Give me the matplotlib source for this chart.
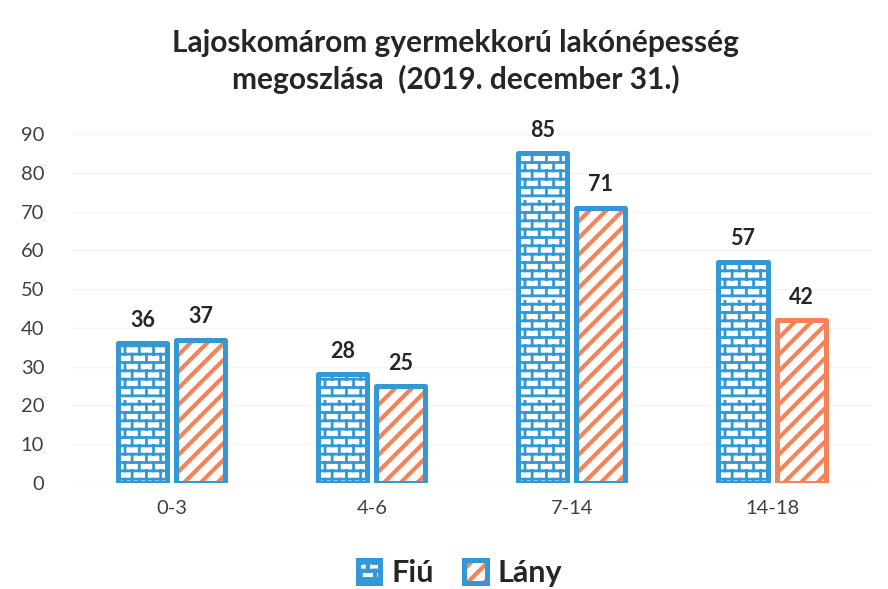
import warnings
import numpy as np
import matplotlib
matplotlib.use("Agg")
import matplotlib.pyplot as plt
from matplotlib import hatch as mhatch
from matplotlib.path import Path

warnings.filterwarnings("ignore")

categories = ["0-3", "4-6", "7-14", "14-18"]
fiu = [36, 28, 85, 57]
lany = [37, 25, 71, 42]
series_names = ["Fiú", "Lány"]

blue = "#3398d3"
orange = "#f6825a"
lany_edges = [blue, blue, blue, orange]


# brick hatch ("b"), not available in matplotlib so register one
class BrickHatch(mhatch.HatchPatternBase):
    rows = 12
    cols = 7

    def __init__(self, hatch, density):
        self.on = "b" in hatch
        # each row: one horizontal line + cols vertical segments
        self.num_vertices = (self.rows * (1 + self.cols) * 2) if self.on else 0

    def set_vertices_and_codes(self, vertices, codes):
        i = 0
        h = 1.0 / self.rows
        w = 1.0 / self.cols
        for r in range(self.rows):
            y0 = (r + 0.5) * h
            vertices[i] = (0, y0)
            vertices[i + 1] = (1, y0)
            i += 2
            shift = 0.25 if r % 2 == 0 else 0.75
            for c in range(self.cols):
                x = (c + shift) * w
                vertices[i] = (x, y0)
                vertices[i + 1] = (x, y0 + h)
                i += 2
        codes[0::2] = Path.MOVETO
        codes[1::2] = Path.LINETO


mhatch._hatch_types.append(BrickHatch)

plt.rcParams["font.family"] = ["Lato", "DejaVu Sans"]

fig = plt.figure(figsize=(8.88, 5.89), dpi=100)
ax = fig.add_axes([0.081, 0.18, 0.901, 0.5925])

x = np.arange(len(categories))
w = 0.245
off = 0.145


def set_hlw(patch, lw):
    if hasattr(patch, "set_hatch_linewidth"):
        patch.set_hatch_linewidth(lw)


plt.rcParams["hatch.linewidth"] = 2.0
b1 = ax.bar(x - off, fiu, w, facecolor="white", edgecolor=blue,
            linewidth=3.6, hatch="b", label=series_names[0], zorder=3)
for p in b1:
    set_hlw(p, 2.0)
    p._hatch_color = matplotlib.colors.to_rgba(blue)
    p.set_joinstyle("round")

plt.rcParams["hatch.linewidth"] = 3.0
b2 = ax.bar(x + off, lany, w, facecolor="white", edgecolor=lany_edges,
            linewidth=3.6, hatch="//", label=series_names[1], zorder=3)
for p in b2:
    set_hlw(p, 3.0)
    p._hatch_color = matplotlib.colors.to_rgba(orange)
    p.set_joinstyle("round")

for bars, vals in ((b1, fiu), (b2, lany)):
    for p, v in zip(bars, vals):
        ax.annotate(str(v), (p.get_x() + p.get_width() / 2, v),
                    xytext=(0, 9), textcoords="offset points",
                    ha="center", va="bottom", fontsize=15.5,
                    fontweight="bold", color="#262626")

ax.set_ylim(0, 90)
ax.set_xlim(-0.5, 3.5)
ax.set_yticks(range(0, 91, 10))
ax.set_xticks(x)
ax.set_xticklabels(categories)
ax.tick_params(axis="both", length=0, labelsize=14.5, labelcolor="#404040")
ax.tick_params(axis="x", pad=12)
ax.tick_params(axis="y", pad=20)
ax.grid(axis="y", color="#f3f3f3", linewidth=1, zorder=0)
for s in ax.spines.values():
    s.set_visible(False)

fig.suptitle("Lajoskomárom gyermekkorú lakónépesség\nmegoszlása  (2019. december 31.)",
             x=0.513, y=0.95, fontsize=21.5, fontweight="bold", color="#262626",
             linespacing=1.3)

leg = fig.legend(handles=[b1, b2], loc="center", bbox_to_anchor=(0.518, 0.027),
                 ncol=2, frameon=False, handlelength=0.75, handleheight=0.75,
                 handletextpad=0.35, columnspacing=1.0,
                 prop={"size": 22, "weight": "bold"})
for t in leg.get_texts():
    t.set_color("#262626")

fig.savefig("out.png", dpi=100)
